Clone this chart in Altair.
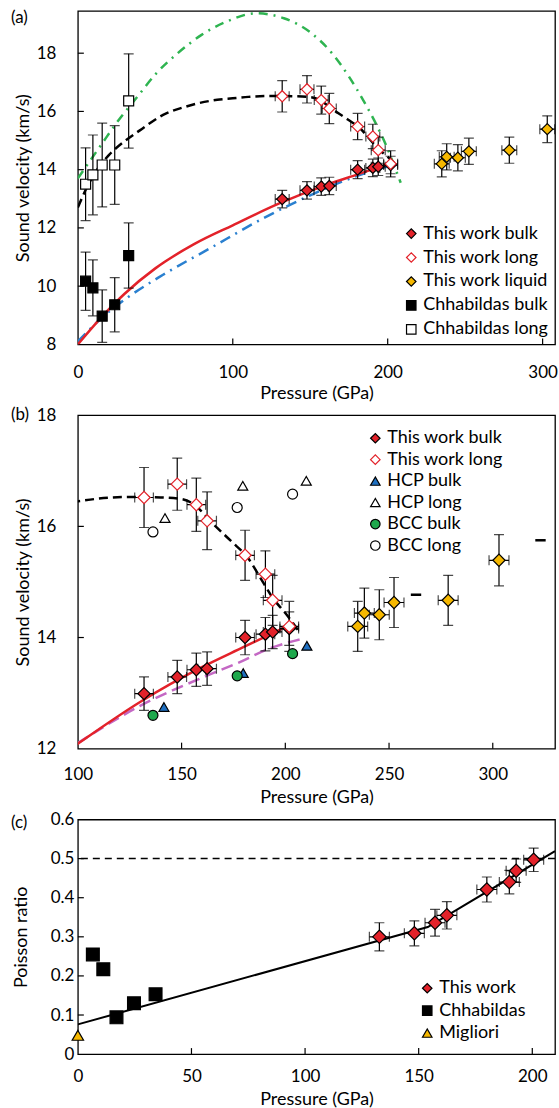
import altair as alt
import pandas as pd

FONT = "Lato"
FS = 17
FT = 18
RED = "#e3222a"
GOLD = "#f6b800"
BLUE = "#1f6fc0"
GREEN = "#1ea84c"
DGREEN = "#2fb451"
LBLUE = "#2a80d0"
MAG = "#c468c4"

panel_labels = ["(a)", "(b)", "(c)"]

# ---------------- This work (panels a, b) ----------------
tw_P = [131.9, 147.9, 157.1, 162.3, 180.6, 190.4, 193.9, 201.9]
tw_P_err = [4.5, 4.5, 4.5, 4.5, 4.5, 4.5, 4.5, 4.5]
tw_bulk_v = [12.99, 13.29, 13.42, 13.44, 14.00, 14.06, 14.10, 14.16]
tw_bulk_err = [0.30, 0.30, 0.30, 0.30, 0.31, 0.30, 0.30, 0.30]
tw_long_v = [16.52, 16.76, 16.39, 16.10, 15.48, 15.14, 14.67, 14.20]
tw_long_err = [0.54, 0.47, 0.48, 0.52, 0.45, 0.42, 0.45, 0.45]

liq_P = [234.9, 238.1, 245.3, 252.4, 278.5, 303.0]
liq_P_err = [4.8, 4.8, 4.8, 4.8, 4.8, 4.8]
liq_v = [14.20, 14.44, 14.41, 14.63, 14.67, 15.39]
liq_err = [0.45, 0.45, 0.45, 0.45, 0.45, 0.46]

# Chhabildas (panel a)
ch_P = [5.0, 9.7, 15.7, 23.8, 32.8]
ch_bulk_v = [10.17, 9.94, 8.97, 9.36, 11.05]
ch_bulk_err = [1.00, 0.96, 0.90, 0.93, 1.12]
ch_long_v = [13.50, 13.82, 14.16, 14.16, 16.36]
ch_long_err = [1.25, 1.37, 1.44, 1.35, 1.62]

# HCP / BCC (panel b)
hcp_bulk_P = [141.5, 179.7, 210.4]
hcp_bulk_v = [12.75, 13.36, 13.85]
hcp_long_P = [142.0, 179.5, 210.1]
hcp_long_v = [16.15, 16.73, 16.82]
bcc_P = [136.2, 176.8, 203.5]
bcc_bulk_v = [12.60, 13.31, 13.71]
bcc_long_v = [15.90, 16.34, 16.58]

# liquid short segments (panel b)
liq_seg_P = [263.0, 323.0]
liq_seg_half = [2.5, 2.5]
liq_seg_v = [14.77, 15.75]

# fitted curves
fit_bulk_P = [0, 15, 30, 50, 75, 100, 130, 160, 180, 204]
fit_bulk_v = [8.00, 8.92, 9.73, 10.61, 11.44, 12.09, 12.84, 13.47, 13.83, 14.26]
fit_long_P = [0, 5, 10, 20, 30, 40, 55, 70, 90, 100, 110, 125, 140, 150, 155, 165, 174, 182, 189, 194, 200, 206]
fit_long_v = [12.70, 13.30, 13.80, 14.50, 14.97, 15.35, 15.88, 16.17, 16.40, 16.45, 16.50, 16.53, 16.52, 16.49,
              16.42, 16.05, 15.73, 15.43, 15.01, 14.71, 14.44, 14.14]
green_P = [0, 15, 27, 37.6, 50.5, 64.5, 79.6, 95.7, 115, 133, 150.5, 164.5, 175.3, 185, 193.5, 200, 205.4, 208.4]
green_v = [13.70, 14.85, 15.75, 16.45, 17.30, 18.00, 18.62, 19.08, 19.37, 19.20, 18.70, 17.97, 17.17, 16.31,
           15.46, 14.71, 13.97, 13.55]
blue_P = [0, 15, 30, 55, 85, 120, 150, 180, 195, 209.5]
blue_v = [8.10, 8.89, 9.53, 10.39, 11.29, 12.34, 13.12, 13.78, 14.04, 14.20]
mag_P = [100, 130, 162, 177, 193, 209.6]
mag_v = [12.10, 12.77, 13.31, 13.54, 13.81, 13.99]

# ---------------- Panel (c) ----------------
c_tw_P = [132.7, 148.1, 157.2, 162.4, 180.0, 189.9, 192.9, 200.6]
c_tw_P_err = [4.4, 4.4, 4.4, 4.4, 4.4, 4.4, 4.4, 4.4]
c_tw_nu = [0.300, 0.309, 0.336, 0.355, 0.421, 0.440, 0.469, 0.497]
c_tw_err = [0.036, 0.032, 0.034, 0.035, 0.032, 0.030, 0.030, 0.030]
c_ch_P = [6.6, 11.2, 17.0, 24.7, 34.2]
c_ch_nu = [0.255, 0.217, 0.094, 0.130, 0.153]
c_mig_P = [0.0]
c_mig_nu = [0.048]
c_fit_P = [0, 154, 210]
c_fit_nu = [0.076, 0.325, 0.519]
c_limit = [0.5]

# tick values
xa_ticks = [0, 100, 200, 300]
ya_ticks = [8, 10, 12, 14, 16, 18]
xb_ticks = [100, 150, 200, 250, 300]
yb_ticks = [12, 14, 16, 18]
xc_ticks = [0, 50, 100, 150, 200]
yc_ticks = [0, 0.1, 0.2, 0.3, 0.4, 0.5, 0.6]


def sc(dom):
    return alt.Scale(domain=dom, nice=False, zero=False)


def pm(vals, errs, sign):
    return [a + sign * e for a, e in zip(vals, errs)]


class Ctx:
    def __init__(self, xs, ys, xa, ya):
        self.xs, self.ys, self.xa, self.ya = xs, ys, xa, ya

    def X(self, f):
        return alt.X(f + ":Q", scale=self.xs, axis=self.xa)

    def Y(self, f):
        return alt.Y(f + ":Q", scale=self.ys, axis=self.ya)


def errbars(P, v, perr, verr, cx):
    layers = []
    if verr is not None:
        d = pd.DataFrame({"x": P, "y1": pm(v, verr, -1), "y2": pm(v, verr, 1)})
        b = alt.Chart(d)
        layers.append(b.mark_rule(color="black", strokeWidth=1.2, clip=True).encode(
            x=cx.X("x"), y=cx.Y("y1"), y2="y2:Q"))
        for c in ("y1", "y2"):
            layers.append(b.mark_tick(color="black", orient="horizontal", size=10, thickness=1.2, clip=True).encode(
                x=cx.X("x"), y=cx.Y(c)))
    if perr is not None:
        d = pd.DataFrame({"y": v, "x1": pm(P, perr, -1), "x2": pm(P, perr, 1)})
        b = alt.Chart(d)
        layers.append(b.mark_rule(color="black", strokeWidth=1.2, clip=True).encode(
            y=cx.Y("y"), x=cx.X("x1"), x2="x2:Q"))
        for c in ("x1", "x2"):
            layers.append(b.mark_tick(color="black", orient="vertical", size=10, thickness=1.2, clip=True).encode(
                y=cx.Y("y"), x=cx.X(c)))
    return layers


def curve(P, v, cx, color, width, dash=None, fields=("P", "v"), interp="monotone"):
    d = pd.DataFrame({fields[0]: P, fields[1]: v})
    kw = dict(color=color, strokeWidth=width, clip=True, interpolate=interp)
    if dash is not None:
        kw["strokeDash"] = dash
    return alt.Chart(d).mark_line(**kw).encode(x=cx.X(fields[0]), y=cx.Y(fields[1]))


def inner_ticks(xt, yt, cx, H):
    lx = alt.Chart(pd.DataFrame({"t": xt})).mark_rule(color="black", strokeWidth=1.2).encode(
        x=cx.X("t"), y=alt.value(H), y2=alt.value(H - 6))
    ly = alt.Chart(pd.DataFrame({"t": yt})).mark_rule(color="black", strokeWidth=1.2).encode(
        y=cx.Y("t"), x=alt.value(0), x2=alt.value(6))
    return [lx, ly]


def label(txt, yoff):
    return alt.Chart(pd.DataFrame({"t": [txt]})).mark_text(
        font=FONT, fontSize=FS, align="left", baseline="middle", color="black").encode(
        text="t:N", x=alt.value(-67), y=alt.value(yoff))


def legend(lx, ly, rowpad, values=None):
    kw = dict(orient="none", legendX=lx, legendY=ly, title=None, labelFont=FONT, labelFontSize=FT,
              labelColor="black", symbolSize=90, symbolStrokeWidth=1.2, rowPadding=rowpad,
              labelOffset=3, padding=0)
    if values is not None:
        kw["values"] = values
    return alt.Legend(**kw)


def points(df, dom, shapes, fills, strokes, leg, cx, size, yf="v"):
    return alt.Chart(df).mark_point(filled=False, size=size, opacity=1, strokeWidth=1.2).encode(
        x=cx.X("P"),
        y=cx.Y(yf),
        shape=alt.Shape("s:N", scale=alt.Scale(domain=dom, range=shapes), legend=leg),
        fill=alt.Fill("s:N", scale=alt.Scale(domain=dom, range=fills), legend=leg),
        stroke=alt.Stroke("s:N", scale=alt.Scale(domain=dom, range=strokes), legend=leg),
    )


def xaxis(vals, lp, ty):
    return alt.Axis(values=vals, title="Pressure (GPa)", labelPadding=lp, ticks=False, tickSize=0,
                    domain=False, grid=False, labelFlush=False, titleY=ty, titleBaseline="middle")


def yaxis(vals, title, lp, tx, fmt=None):
    kw = dict(values=vals, title=title, labelPadding=lp, ticks=False, tickSize=0, domain=False, grid=False,
              labelFlush=False, titleX=tx, titleBaseline="middle")
    if fmt:
        kw["format"] = fmt
    return alt.Axis(**kw)


# ================= Panel (a) =================
WA, HA = 478, 334
cx = Ctx(sc([0, 308]), sc([8, 19.45]), xaxis(xa_ticks, 20, 49), yaxis(ya_ticks, "Sound velocity (km/s)", 22, -54))
dom_a = ["This work bulk", "This work long", "This work liquid", "Chhabildas bulk", "Chhabildas long"]
shp_a = ["diamond", "diamond", "diamond", "square", "square"]
fil_a = [RED, "white", GOLD, "black", "white"]
stk_a = ["black", RED, "black", "black", "black"]
leg_a = legend(325, 214, 6)

la = [
    curve(green_P, green_v, cx, DGREEN, 2.5, [9, 6, 2, 6]),
    curve(fit_long_P, fit_long_v, cx, "black", 2.5, [9, 5]),
    curve(blue_P, blue_v, cx, LBLUE, 2.5, [11, 6, 2, 6]),
    curve(fit_bulk_P, fit_bulk_v, cx, RED, 2.5),
]
la += errbars(ch_P, ch_bulk_v, None, ch_bulk_err, cx)
la += errbars(ch_P, ch_long_v, None, ch_long_err, cx)
la += errbars(tw_P, tw_bulk_v, tw_P_err, tw_bulk_err, cx)
la += errbars(tw_P, tw_long_v, tw_P_err, tw_long_err, cx)
la += errbars(liq_P, liq_v, liq_P_err, liq_err, cx)
pa_sq = pd.concat([
    pd.DataFrame({"P": ch_P, "v": ch_bulk_v, "s": "Chhabildas bulk"}),
    pd.DataFrame({"P": ch_P, "v": ch_long_v, "s": "Chhabildas long"}),
])
pa_dm = pd.concat([
    pd.DataFrame({"P": tw_P, "v": tw_bulk_v, "s": "This work bulk"}),
    pd.DataFrame({"P": tw_P, "v": tw_long_v, "s": "This work long"}),
    pd.DataFrame({"P": liq_P, "v": liq_v, "s": "This work liquid"}),
])
la.append(points(pa_sq, dom_a, shp_a, fil_a, stk_a, leg_a, cx, 100))
la.append(points(pa_dm, dom_a, shp_a, fil_a, stk_a, leg_a, cx, 125))
la += inner_ticks(xa_ticks[1:], ya_ticks[1:], cx, HA)
la.append(label(panel_labels[0], 7))
chart_a = alt.layer(*la).properties(width=WA, height=HA)

# ================= Panel (b) =================
WB, HB = 478, 334
cx = Ctx(sc([100, 330]), sc([12, 18]), xaxis(xb_ticks, 18, 49), yaxis(yb_ticks, "Sound velocity (km/s)", 22, -54))
dom_b = ["This work bulk", "This work long", "HCP bulk", "HCP long", "BCC bulk", "BCC long", "This work liquid"]
shp_b = ["diamond", "diamond", "triangle-up", "triangle-up", "circle", "circle", "diamond"]
fil_b = [RED, "white", BLUE, "white", GREEN, "white", GOLD]
stk_b = ["black", RED, "black", "black", "black", "black", "black"]
leg_b = legend(289, 14, 3.5, dom_b[:6])

lb = [
    curve(fit_long_P, fit_long_v, cx, "black", 2.5, [9, 5]),
    curve(mag_P, mag_v, cx, MAG, 2.5, [12, 6]),
    curve(fit_bulk_P, fit_bulk_v, cx, RED, 2.5),
]
seg = pd.DataFrame({"v": liq_seg_v, "x1": pm(liq_seg_P, liq_seg_half, -1), "x2": pm(liq_seg_P, liq_seg_half, 1)})
lb.append(alt.Chart(seg).mark_rule(color="black", strokeWidth=2.5).encode(
    y=cx.Y("v"), x=cx.X("x1"), x2="x2:Q"))
lb += errbars(tw_P, tw_bulk_v, tw_P_err, tw_bulk_err, cx)
lb += errbars(tw_P, tw_long_v, tw_P_err, tw_long_err, cx)
lb += errbars(liq_P, liq_v, liq_P_err, liq_err, cx)
pb_ref = pd.concat([
    pd.DataFrame({"P": hcp_bulk_P, "v": hcp_bulk_v, "s": "HCP bulk"}),
    pd.DataFrame({"P": hcp_long_P, "v": hcp_long_v, "s": "HCP long"}),
    pd.DataFrame({"P": bcc_P, "v": bcc_bulk_v, "s": "BCC bulk"}),
    pd.DataFrame({"P": bcc_P, "v": bcc_long_v, "s": "BCC long"}),
])
pb_dm = pd.concat([
    pd.DataFrame({"P": tw_P, "v": tw_bulk_v, "s": "This work bulk"}),
    pd.DataFrame({"P": tw_P, "v": tw_long_v, "s": "This work long"}),
    pd.DataFrame({"P": liq_P, "v": liq_v, "s": "This work liquid"}),
])
lb.append(points(pb_ref, dom_b, shp_b, fil_b, stk_b, leg_b, cx, 100))
lb.append(points(pb_dm, dom_b, shp_b, fil_b, stk_b, leg_b, cx, 150))
lb += inner_ticks(xb_ticks[1:], yb_ticks[1:-1], cx, HB)
lb.append(label(panel_labels[1], 0))
chart_b = alt.layer(*lb).properties(width=WB, height=HB)

# ================= Panel (c) =================
WC, HC = 478, 235
cx = Ctx(sc([0, 210]), sc([0, 0.6]), xaxis(xc_ticks, 14, 45), yaxis(yc_ticks, "Poisson ratio", 4, -56, ".1~f"))
dom_c = ["This work", "Chhabildas", "Migliori"]
shp_c = ["diamond", "square", "triangle-up"]
fil_c = [RED, "black", GOLD]
stk_c = ["black", "black", "black"]
leg_c = legend(341, 160, 4.5)

lc = [
    curve(c_fit_P, c_fit_nu, cx, "black", 2, None, fields=("P", "nu"), interp="linear"),
    alt.Chart(pd.DataFrame({"lim": c_limit})).mark_rule(color="black", strokeWidth=1.5, strokeDash=[7, 5]).encode(
        y=cx.Y("lim")),
]
lc += errbars(c_tw_P, c_tw_nu, c_tw_P_err, c_tw_err, cx)
lc.append(points(pd.DataFrame({"P": c_ch_P, "nu": c_ch_nu, "s": "Chhabildas"}), dom_c, shp_c, fil_c, stk_c,
                 leg_c, cx, 165, yf="nu"))
lc.append(points(pd.DataFrame({"P": c_mig_P, "nu": c_mig_nu, "s": "Migliori"}), dom_c, shp_c, fil_c, stk_c,
                 leg_c, cx, 130, yf="nu"))
lc.append(points(pd.DataFrame({"P": c_tw_P, "nu": c_tw_nu, "s": "This work"}), dom_c, shp_c, fil_c, stk_c,
                 leg_c, cx, 180, yf="nu"))
lc += inner_ticks(xc_ticks[1:], yc_ticks[1:-1], cx, HC)
lc.append(label(panel_labels[2], 3))
chart_c = alt.layer(*lc).properties(width=WC, height=HC)

chart = alt.vconcat(chart_a, chart_b, chart_c, spacing=2).resolve_scale(
    shape="independent", fill="independent", stroke="independent"
).properties(
    padding={"left": 10, "top": 7, "right": 0, "bottom": 0}
).configure_view(
    stroke="black", strokeWidth=1.3
).configure_axis(
    labelFont=FONT, titleFont=FONT, labelFontSize=FS, titleFontSize=FT, titleFontWeight="normal",
    labelColor="black", titleColor="black"
)

chart.save("out.html", embed_options={"renderer": "svg", "actions": False})
